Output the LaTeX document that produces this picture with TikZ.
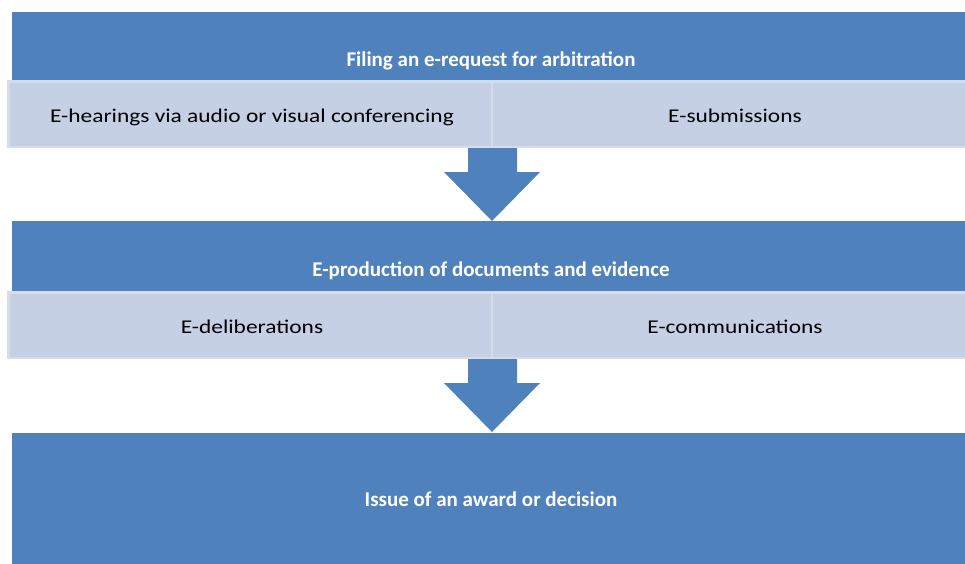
\documentclass[tikz,border=0pt]{standalone}
\usepackage{fontspec}
\setmainfont{Carlito}
\newfontfamily\cellfont[FakeStretch=1.2]{Carlito}
\definecolor{blueA}{HTML}{4F81BD}
\definecolor{lightA}{HTML}{C5D0E4}
\definecolor{lightB}{HTML}{D5DCEA}
\begin{document}
\begin{tikzpicture}[x=1pt,y=-1pt,
  bluebox/.style={fill=blueA, draw=none, inner sep=0pt},
  cellbox/.style={fill=lightA, draw=lightB, line width=2.5pt, inner sep=0pt},
  titletext/.style={text=white, font=\fontsize{21}{24}\selectfont\bfseries, inner sep=0pt, anchor=base},
  celltext/.style={text=black, font=\cellfont\fontsize{19.5}{22}\selectfont, inner sep=0pt, anchor=base},
  blockarrow/.style={fill=blueA, draw=none}]
\useasboundingbox (0,0) rectangle (965,563);
% stage 1
\path[bluebox] (12,12) rectangle (966,80);
\node[titletext] (t1) at (491,66) {Filing an e-request for arbitration};
\path[cellbox] (8.5,81.5) rectangle (492,147);
\path[cellbox] (492,81.5) rectangle (966,147);
\node[celltext] (c1) at (252,122) {E-hearings via audio or visual conferencing};
\node[celltext] (c2) at (735,122) {E-submissions};
% arrow 1
\path[blockarrow] (468,148) -- (517,148) -- (517,172) -- (540,172) -- (492,221) -- (444,172) -- (468,172) -- cycle;
% stage 2
\path[bluebox] (12,221) rectangle (966,291);
\node[titletext] (t2) at (491,276) {E-production of documents and evidence};
\path[cellbox] (8.5,292.5) rectangle (492,358);
\path[cellbox] (492,292.5) rectangle (966,358);
\node[celltext] (c3) at (252,333) {E-deliberations};
\node[celltext] (c4) at (735,333) {E-communications};
% arrow 2
\path[blockarrow] (468,359) -- (517,359) -- (517,383) -- (540,383) -- (492,432) -- (444,383) -- (468,383) -- cycle;
% stage 3
\path[bluebox] (12,433) rectangle (966,564);
\node[titletext] (t3) at (491,506) {Issue of an award or decision};
\end{tikzpicture}
\end{document}
